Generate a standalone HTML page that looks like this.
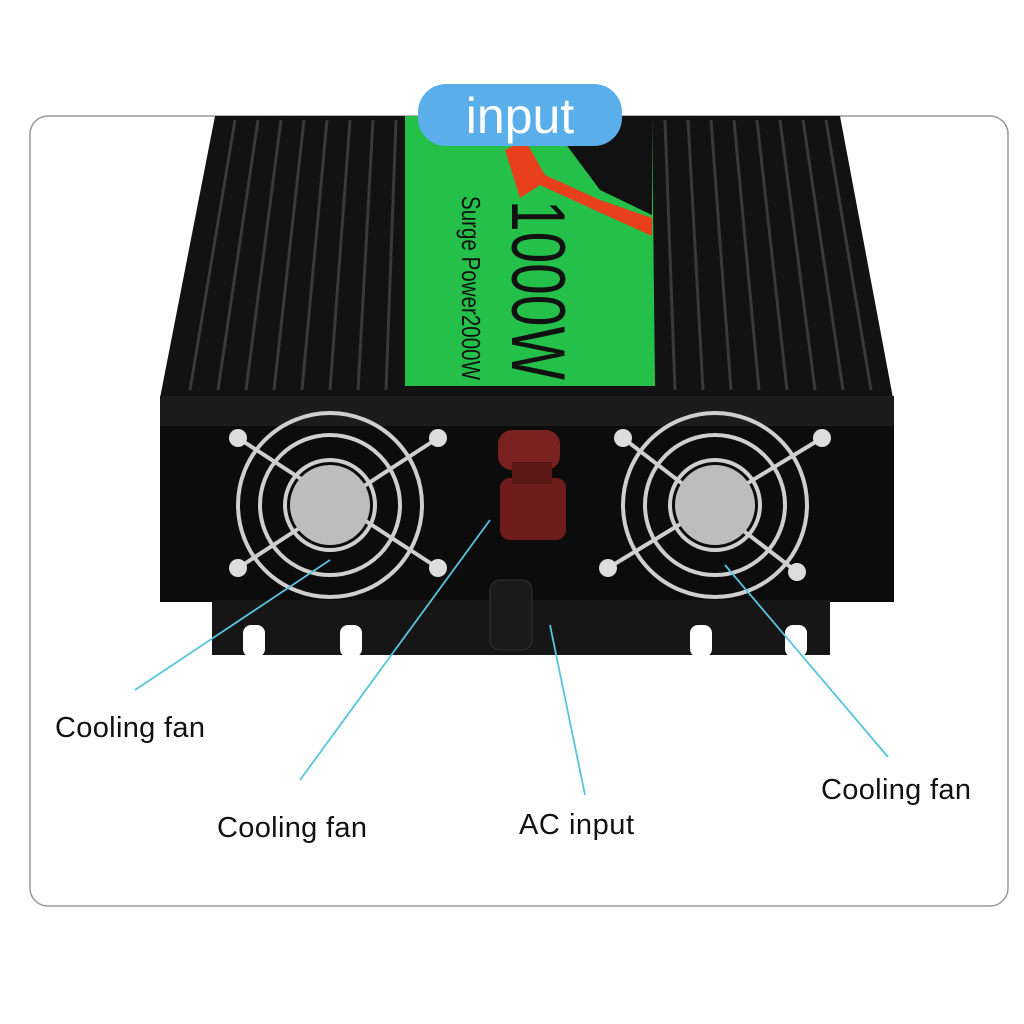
<!DOCTYPE html>
<html><head><style>
body{margin:0;background:#fff;width:1024px;height:1024px;overflow:hidden;}
svg{display:block}
</style></head><body>
<svg width="1024" height="1024" viewBox="0 0 1024 1024" xmlns="http://www.w3.org/2000/svg">
<rect width="1024" height="1024" fill="#fff"/>
<rect x="30" y="116" width="978" height="790" rx="18" fill="#fff" stroke="#9a9a9a" stroke-width="1.5"/>
<polygon points="215,116 840,116 893,398 160,398" fill="#121212"/>
<g stroke="#3a3a3a" stroke-width="3">
<line x1="235" y1="120" x2="190" y2="390"/><line x1="258" y1="120" x2="218" y2="390"/>
<line x1="281" y1="120" x2="246" y2="390"/><line x1="304" y1="120" x2="274" y2="390"/>
<line x1="327" y1="120" x2="302" y2="390"/><line x1="350" y1="120" x2="330" y2="390"/>
<line x1="373" y1="120" x2="358" y2="390"/><line x1="396" y1="120" x2="386" y2="390"/>
<line x1="665" y1="120" x2="675" y2="390"/><line x1="688" y1="120" x2="703" y2="390"/>
<line x1="711" y1="120" x2="731" y2="390"/><line x1="734" y1="120" x2="759" y2="390"/>
<line x1="757" y1="120" x2="787" y2="390"/><line x1="780" y1="120" x2="815" y2="390"/>
<line x1="803" y1="120" x2="843" y2="390"/><line x1="826" y1="120" x2="871" y2="390"/>
</g>
<polygon points="405,116 652,116 655,386 405,386" fill="#25c04a"/>
<polygon points="545,116 652,116 652,215 600,190" fill="#111"/>
<polygon points="505,150 525,140 545,175 600,200 652,218 652,236 590,208 540,185 520,198" fill="#e8401c"/>
<text transform="translate(512,200) rotate(90)" font-family="Liberation Sans,sans-serif" font-size="76" fill="#111" textLength="180" lengthAdjust="spacingAndGlyphs">1000W</text>
<text transform="translate(462,196) rotate(90)" font-family="Liberation Sans,sans-serif" font-size="26" fill="#111" textLength="184" lengthAdjust="spacingAndGlyphs">Surge Power2000W</text>
<rect x="160" y="396" width="734" height="206" fill="#0c0c0c"/>
<rect x="160" y="396" width="734" height="30" fill="#1c1c1c"/>
<polygon points="212,600 830,600 830,655 212,655" fill="#161616"/>
<rect x="243" y="625" width="22" height="32" rx="8" fill="#fff"/>
<rect x="340" y="625" width="22" height="32" rx="8" fill="#fff"/>
<rect x="690" y="625" width="22" height="32" rx="8" fill="#fff"/>
<rect x="785" y="625" width="22" height="32" rx="8" fill="#fff"/>
<g fill="none" stroke="#cfcfcf" stroke-width="4">
<circle cx="330" cy="505" r="92"/><circle cx="330" cy="505" r="70"/><circle cx="330" cy="505" r="45"/>
<line x1="238" y1="438" x2="438" y2="568"/><line x1="438" y1="438" x2="238" y2="568"/>
<circle cx="715" cy="505" r="92"/><circle cx="715" cy="505" r="70"/><circle cx="715" cy="505" r="45"/>
<line x1="623" y1="438" x2="797" y2="572"/><line x1="822" y1="438" x2="608" y2="568"/>
</g>
<circle cx="330" cy="505" r="40" fill="#bdbdbd"/><circle cx="715" cy="505" r="40" fill="#bdbdbd"/>
<g fill="#ddd"><circle cx="238" cy="438" r="9"/><circle cx="438" cy="438" r="9"/><circle cx="238" cy="568" r="9"/><circle cx="438" cy="568" r="9"/>
<circle cx="623" cy="438" r="9"/><circle cx="822" cy="438" r="9"/><circle cx="608" cy="568" r="9"/><circle cx="797" cy="572" r="9"/></g>
<rect x="498" y="430" width="62" height="40" rx="14" fill="#7a2222"/>
<rect x="500" y="478" width="66" height="62" rx="10" fill="#6e1c1c"/>
<rect x="512" y="462" width="40" height="22" fill="#5b1616"/>
<rect x="490" y="580" width="42" height="70" rx="10" fill="#1a1a1a" stroke="#333"/>
<g stroke="#58c4de" stroke-width="1.8">
<line x1="330" y1="560" x2="135" y2="690"/>
<line x1="490" y1="520" x2="300" y2="780"/>
<line x1="550" y1="625" x2="585" y2="795"/>
<line x1="725" y1="565" x2="888" y2="757"/>
</g>
<g font-family="Liberation Sans,sans-serif" font-size="29" fill="#111">
<text x="55" y="737" textLength="150">Cooling fan</text>
<text x="217" y="837" textLength="150">Cooling fan</text>
<text x="519" y="834" textLength="115">AC input</text>
<text x="821" y="799" textLength="150">Cooling fan</text>
</g>
<rect x="418" y="84" width="204" height="62" rx="28" fill="#5aaeea"/>
<text x="520" y="133" text-anchor="middle" font-family="Liberation Sans,sans-serif" font-size="50" fill="#fff">input</text>
</svg>
</body></html>
